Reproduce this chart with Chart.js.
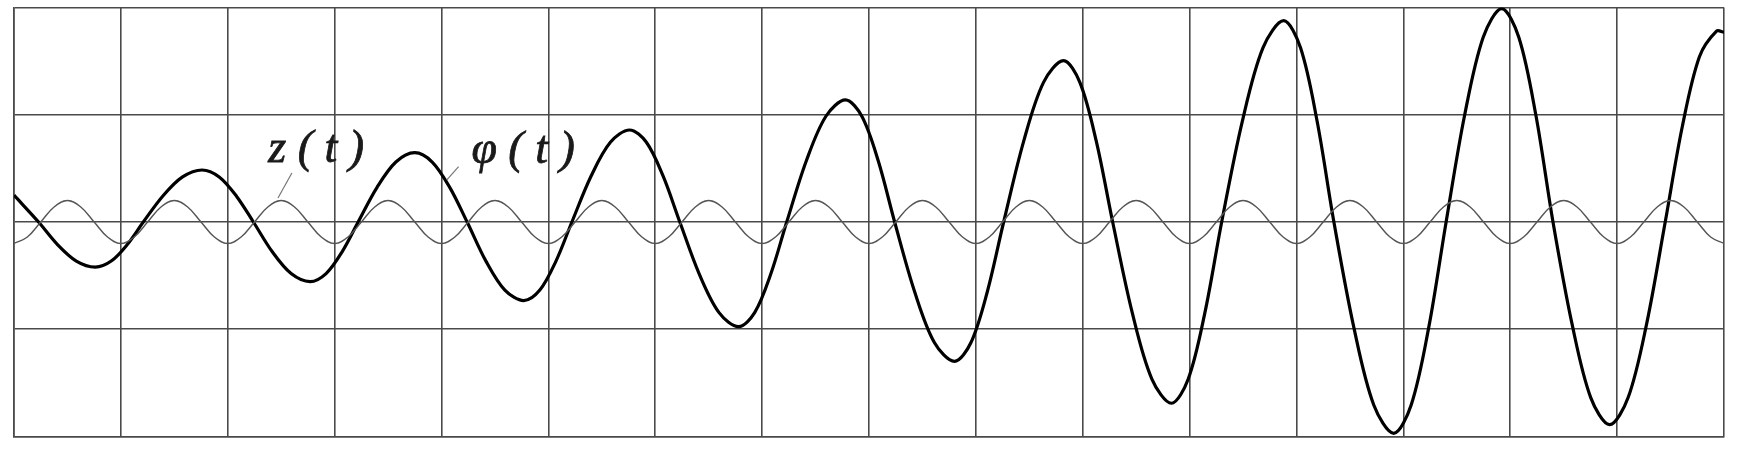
<!DOCTYPE html>
<html>
<head>
<meta charset="utf-8">
<script src="https://cdn.jsdelivr.net/npm/chart.js@4/dist/chart.umd.min.js"></script>
<style>
  html, body { margin: 0; padding: 0; background: #fff; }
  #wrap { width: 1742px; height: 457px; position: relative; }
</style>
</head>
<body>
<div id="wrap"><canvas id="waveChart"></canvas></div>
<script>
// z(t): thin fast oscillation, sampled every 1/8 grid unit (one period per row)
const zStep = 0.125;
const zValues = [
  -0.2, -0.14, 0, 0.14, 0.2, 0.14, 0, -0.14,
  -0.2, -0.14, 0, 0.14, 0.2, 0.14, 0, -0.14,
  -0.2, -0.14, 0, 0.14, 0.2, 0.14, 0, -0.14,
  -0.2, -0.14, 0, 0.14, 0.2, 0.14, 0, -0.14,
  -0.2, -0.14, 0, 0.14, 0.2, 0.14, 0, -0.14,
  -0.2, -0.14, 0, 0.14, 0.2, 0.14, 0, -0.14,
  -0.2, -0.14, 0, 0.14, 0.2, 0.14, 0, -0.14,
  -0.2, -0.14, 0, 0.14, 0.2, 0.14, 0, -0.14,
  -0.2, -0.14, 0, 0.14, 0.2, 0.14, 0, -0.14,
  -0.2, -0.14, 0, 0.14, 0.2, 0.14, 0, -0.14,
  -0.2, -0.14, 0, 0.14, 0.2, 0.14, 0, -0.14,
  -0.2, -0.14, 0, 0.14, 0.2, 0.14, 0, -0.14,
  -0.2, -0.14, 0, 0.14, 0.2, 0.14, 0, -0.14,
  -0.2, -0.14, 0, 0.14, 0.2, 0.14, 0, -0.14,
  -0.2, -0.14, 0, 0.14, 0.2, 0.14, 0, -0.14,
  -0.2, -0.14, 0, 0.14, 0.2, 0.14, 0, -0.14,
  -0.2,
];

// phi(t): growing slow oscillation, one half-wave per row
// (zero crossing, two points on the way, extremum, two points back)
const phiT = [
  0,
  0.23, 0.407, 0.583, 0.76, 0.91, 1.06,
  1.21, 1.393, 1.577, 1.76, 1.92, 2.08,
  2.24, 2.417, 2.593, 2.77, 2.92, 3.07,
  3.22, 3.397, 3.573, 3.75, 3.913, 4.077,
  4.24, 4.417, 4.593, 4.77, 4.92, 5.07,
  5.22, 5.4, 5.58, 5.76, 5.917, 6.073,
  6.23, 6.413, 6.597, 6.78, 6.93, 7.08,
  7.23, 7.413, 7.597, 7.78, 7.933, 8.087,
  8.24, 8.427, 8.613, 8.8, 8.953, 9.107,
  9.26, 9.447, 9.633, 9.82, 9.973, 10.127,
  10.28, 10.463, 10.647, 10.83, 10.987, 11.143,
  11.3, 11.493, 11.687, 11.88, 12.037, 12.193,
  12.35, 12.537, 12.723, 12.91, 13.073, 13.237,
  13.4, 13.573, 13.747, 13.92, 14.08, 14.24,
  14.4, 14.577, 14.753, 14.93, 15.103, 15.277,
  15.45, 15.61, 15.77, 15.93, 16.0,
];
const phiValues = [
  0.25,
  0, -0.21, -0.364, -0.42, -0.364, -0.21,
  0, 0.243, 0.42, 0.485, 0.42, 0.243,
  0, -0.278, -0.481, -0.556, -0.481, -0.278,
  0, 0.323, 0.559, 0.646, 0.559, 0.323,
  0, -0.367, -0.635, -0.733, -0.635, -0.367,
  0, 0.429, 0.743, 0.858, 0.743, 0.429,
  0, -0.488, -0.845, -0.976, -0.845, -0.488,
  0, 0.569, 0.986, 1.138, 0.986, 0.569,
  0, -0.65, -1.126, -1.3, -1.126, -0.65,
  0, 0.752, 1.302, 1.504, 1.302, 0.752,
  0, -0.845, -1.464, -1.69, -1.464, -0.845,
  0, 0.939, 1.626, 1.877, 1.626, 0.939,
  0, -0.985, -1.706, -1.97, -1.706, -0.985,
  0, 0.995, 1.723, 1.99, 1.723, 0.995,
  0, -0.945, -1.637, -1.89, -1.637, -0.945,
  0, 0.89, 1.541, 1.78, 1.77,
];

// curve labels with their leader lines, in data units
const labelTexts = ['z ( t )', 'φ ( t )'];
const labelAt = [[2.38, 0.56], [4.28, 0.55]];
const leaderFrom = [[2.6, 0.457], [4.16, 0.516]];
const leaderTo = [[2.47, 0.224], [4.05, 0.392]];

const gridColor = '#4a4a4a';

/**
 * Draws the curve names and their short leader lines
 */
const curveLabels = {
  id: 'curveLabels',
  afterDatasetsDraw(chart) {
    const { ctx, scales: { x, y } } = chart;
    ctx.save();
    labelTexts.forEach((text, i) => {
      ctx.strokeStyle = '#777';
      ctx.lineWidth = 1.2;
      ctx.beginPath();
      ctx.moveTo(x.getPixelForValue(leaderFrom[i][0]), y.getPixelForValue(leaderFrom[i][1]));
      ctx.lineTo(x.getPixelForValue(leaderTo[i][0]), y.getPixelForValue(leaderTo[i][1]));
      ctx.stroke();

      const px = x.getPixelForValue(labelAt[i][0]);
      const py = y.getPixelForValue(labelAt[i][1]);
      ctx.font = 'italic 46px "Liberation Serif", "DejaVu Serif", serif';
      ctx.textBaseline = 'alphabetic';
      ctx.fillStyle = '#1a1a1a';
      ctx.strokeStyle = '#1a1a1a';
      ctx.lineWidth = 0.8;
      ctx.fillText(text, px, py);
      ctx.strokeText(text, px, py);
    });
    ctx.restore();
  },
};

const axisOptions = (min, max) => ({
  type: 'linear',
  min,
  max,
  ticks: { display: false, stepSize: 1, autoSkip: false },
  grid: { color: gridColor, lineWidth: 1.6, drawTicks: false },
  border: { color: gridColor, width: 1.6 },
});

new Chart(document.getElementById('waveChart'), {
  type: 'line',
  data: {
    datasets: [
      {
        label: 'z(t)',
        data: zValues.map((v, i) => ({ x: i * zStep, y: v })),
        borderColor: '#555',
        borderWidth: 1.4,
        pointRadius: 0,
        tension: 0.4,
      },
      {
        label: 'φ(t)',
        data: phiValues.map((v, i) => ({ x: phiT[i], y: v })),
        borderColor: '#000',
        borderWidth: 3.2,
        pointRadius: 0,
        tension: 0.33,
      },
    ],
  },
  options: {
    responsive: true,
    maintainAspectRatio: false,
    animation: false,
    layout: { padding: { left: 14, right: 18, top: 7.5, bottom: 20.5 } },
    plugins: {
      legend: { display: false },
      tooltip: { enabled: false },
    },
    scales: {
      x: axisOptions(0, 16),
      y: axisOptions(-2, 2),
    },
  },
  plugins: [curveLabels],
});
</script>
</body>
</html>
